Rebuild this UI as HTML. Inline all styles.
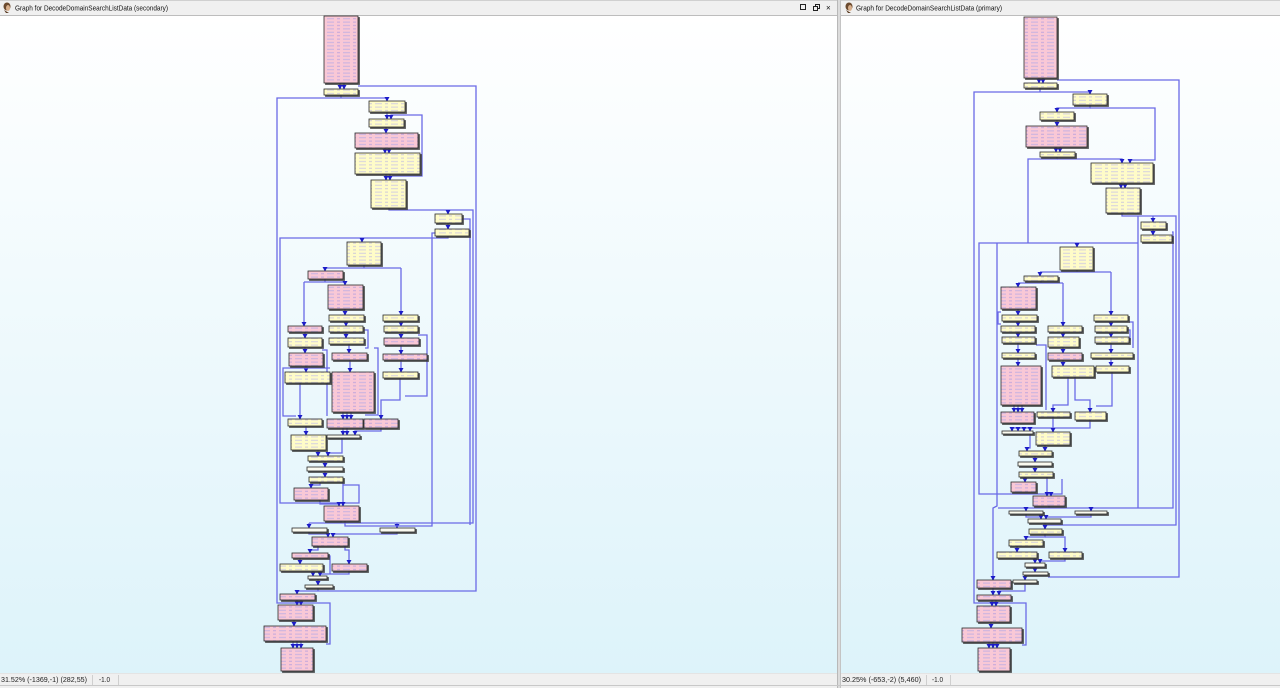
<!DOCTYPE html>
<html><head><meta charset="utf-8"><style>
html,body{margin:0;padding:0;width:1280px;height:688px;overflow:hidden;background:#f0f0f0}
svg{position:absolute;left:0;top:0}
</style></head><body>
<svg width="1280" height="688" viewBox="0 0 1280 688" xmlns="http://www.w3.org/2000/svg">
<defs>
<linearGradient id="bg" x1="0" y1="0" x2="0" y2="1">
<stop offset="0" stop-color="#ffffff"/><stop offset="1" stop-color="#ddf3fa"/>
</linearGradient>
<pattern id="pp" width="16" height="3.4" patternUnits="userSpaceOnUse">
<rect width="16" height="3.4" fill="#f9c8d6"/><rect x="1" y="1.2" width="3" height="1" fill="#c2a6dc"/><rect x="7" y="1.2" width="7" height="1" fill="#c6b2e2"/>
</pattern>
<pattern id="py" width="16" height="3.4" patternUnits="userSpaceOnUse">
<rect width="16" height="3.4" fill="#fffcc8"/><rect x="1" y="1.2" width="3" height="1" fill="#cfcad8"/><rect x="7" y="1.2" width="7" height="1" fill="#d4d0e0"/>
</pattern>
<filter id="sh" x="-20%" y="-20%" width="150%" height="150%">
<feDropShadow dx="1.5" dy="1.5" stdDeviation="0.3" flood-color="#3a3a3a" flood-opacity="0.85"/>
</filter>
<marker id="ar" markerWidth="5" markerHeight="5" refX="4" refY="2.5" orient="auto" markerUnits="userSpaceOnUse">
<path d="M0,0 L4.5,2.5 L0,5 z" fill="#1c1cc8"/>
</marker>
<style>
.e{fill:none;stroke:#6a6ae6;stroke-width:1.3}
.a{marker-end:url(#ar)}
.p{fill:url(#pp);stroke:#2a2a2a;stroke-width:.8}
.y{fill:url(#py);stroke:#2a2a2a;stroke-width:.8}
.w{fill:#fbfbf0;stroke:#2a2a2a;stroke-width:.8}
.tt{font-family:"Liberation Sans",sans-serif;font-size:7.5px;fill:#111}
.st{font-family:"Liberation Sans",sans-serif;font-size:7px;fill:#222}
</style>
</defs>

<!-- title bars -->
<rect x="0" y="0" width="1280" height="16" fill="#f0f0f0"/>
<line x1="0" y1="0.5" x2="1280" y2="0.5" stroke="#d0d0d0"/>
<line x1="0" y1="15.5" x2="1280" y2="15.5" stroke="#bdbdbd"/>
<g>
<ellipse cx="7" cy="6.5" rx="3.5" ry="4" fill="#6b4a2e"/>
<ellipse cx="8" cy="8" rx="2" ry="3" fill="#d9b08c"/>
<path d="M4,10 L6,13 L9,13 Z" fill="#5a3b22"/>
</g>
<text class="tt" x="15" y="10.5" textLength="153" lengthAdjust="spacingAndGlyphs">Graph for DecodeDomainSearchListData (secondary)</text>
<rect x="800.5" y="4.5" width="5" height="5" fill="none" stroke="#222" stroke-width="1"/>
<rect x="815.5" y="4.5" width="4" height="4" fill="none" stroke="#222" stroke-width="1"/>
<rect x="813.5" y="6.5" width="4" height="4" fill="#f0f0f0" stroke="#222" stroke-width="1"/>
<text class="tt" x="826" y="10.5" style="font-size:8px">×</text>
<g transform="translate(842,0)">
<ellipse cx="7" cy="6.5" rx="3.5" ry="4" fill="#6b4a2e"/>
<ellipse cx="8" cy="8" rx="2" ry="3" fill="#d9b08c"/>
<path d="M4,10 L6,13 L9,13 Z" fill="#5a3b22"/>
</g>
<text class="tt" x="856" y="10.5" textLength="146" lengthAdjust="spacingAndGlyphs">Graph for DecodeDomainSearchListData (primary)</text>

<!-- graph areas -->
<rect x="0" y="16" width="837" height="657" fill="url(#bg)"/>
<rect x="841" y="16" width="439" height="657" fill="url(#bg)"/>
<!-- divider -->
<rect x="837" y="0" width="4" height="688" fill="#dcdcdc"/>
<line x1="837.5" y1="0" x2="837.5" y2="688" stroke="#b8b8b8"/>
<line x1="840.5" y1="0" x2="840.5" y2="688" stroke="#c4c4c4"/>

<!-- status bars -->
<rect x="0" y="673" width="837" height="15" fill="#f0f0f0"/>
<rect x="841" y="673" width="439" height="15" fill="#f0f0f0"/>
<line x1="0" y1="673.5" x2="837" y2="673.5" stroke="#e4e4e4"/>
<line x1="841" y1="673.5" x2="1280" y2="673.5" stroke="#e4e4e4"/>
<line x1="0" y1="685.5" x2="1280" y2="685.5" stroke="#c8c8c8"/>
<text class="st" x="1" y="682" textLength="86" lengthAdjust="spacingAndGlyphs">31.52%  (-1369,-1)  (282,55)</text>
<line x1="92.5" y1="675" x2="92.5" y2="685" stroke="#cfcfcf"/>
<text class="st" x="99" y="682" textLength="11" lengthAdjust="spacingAndGlyphs">-1.0</text>
<line x1="118.5" y1="675" x2="118.5" y2="685" stroke="#cfcfcf"/>
<text class="st" x="842" y="682" textLength="79" lengthAdjust="spacingAndGlyphs">30.25%  (-653,-2)  (5,460)</text>
<line x1="926.5" y1="675" x2="926.5" y2="685" stroke="#cfcfcf"/>
<text class="st" x="932" y="682" textLength="11" lengthAdjust="spacingAndGlyphs">-1.0</text>
<line x1="950.5" y1="675" x2="950.5" y2="685" stroke="#cfcfcf"/>

<!-- LEFT EDGES -->
<g class="e">
<polyline class="a" points="340,83 340,89"/>
<polyline class="a" points="344,83 344,89"/>
<polyline points="358,86 476,86 476,591 297,591"/>
<polyline class="a" points="297,591 297,594"/>
<polyline points="326,644 330,644 330,603 277,603 277,98 387,98"/>
<polyline points="341,95 341,98"/>
<polyline class="a" points="387,98 387,101"/>
<polyline class="a" points="387,112 387,119"/>
<polyline class="a" points="392,176 422,176 422,115 391,115 391,119"/>
<polyline class="a" points="386,127 386,133"/>
<polyline class="a" points="385,148 385,153"/>
<polyline class="a" points="389,148 389,153"/>
<polyline class="a" points="386,174 386,180"/>
<polyline class="a" points="390,174 390,180"/>
<polyline points="389,208 389,210 473,210 473,523 309,523"/>
<polyline class="a" points="309,523 309,528"/>
<polyline class="a" points="397,523 397,528"/>
<polyline class="a" points="448,210 448,214"/>
<polyline class="a" points="448,223 448,229"/>
<polyline points="462,219 470,219 470,525"/>
<polyline points="435,233 432,233 432,526 345,526 345,521"/>
<polyline points="343,485 359,485 359,503 280,503 280,238 448,238 448,236"/>
<polyline class="a" points="362,238 362,242"/>
<polyline points="364,265 364,268"/>
<polyline points="325,268 401,268"/>
<polyline class="a" points="325,268 325,271"/>
<polyline class="a" points="401,268 401,315"/>
<polyline points="325,279 325,282"/>
<polyline points="304,282 345,282"/>
<polyline class="a" points="304,282 304,326"/>
<polyline class="a" points="345,282 345,285"/>
<polyline class="a" points="345,309 345,315"/>
<polyline class="a" points="346,321 346,326"/>
<polyline class="a" points="346,332 346,338"/>
<polyline class="a" points="349,344 349,353"/>
<polyline class="a" points="350,360 350,372"/>
<polyline class="a" points="343,412 343,419"/>
<polyline class="a" points="347,412 347,419"/>
<polyline class="a" points="351,412 351,419"/>
<polyline class="a" points="401,321 401,326"/>
<polyline class="a" points="401,332 401,338"/>
<polyline class="a" points="401,345 401,354"/>
<polyline class="a" points="401,360 401,372"/>
<polyline class="a" points="400,378 400,400 381,400 381,419"/>
<polyline class="a" points="305,332 305,338"/>
<polyline class="a" points="305,347 305,353"/>
<polyline class="a" points="306,366 306,372"/>
<polyline class="a" points="300,383 300,419"/>
<polyline points="330,368 283,368 283,416 296,416"/>
<polyline points="374,348 378,348 378,415 365,415"/>
<polyline points="418,335 427,335 427,396 405,396"/>
<polyline points="364,330 368,330 368,348 365,348"/>
<polyline points="322,350 327,350 327,416"/>
<polyline class="a" points="306,426 306,435"/>
<polyline class="a" points="343,428 343,435"/>
<polyline class="a" points="347,428 347,435"/>
<polyline class="a" points="381,428 381,431 355,431 355,435"/>
<polyline class="a" points="318,450 318,456"/>
<polyline class="a" points="342,438 342,453 328,453 328,456"/>
<polyline class="a" points="325,461 325,467"/>
<polyline class="a" points="325,471 325,477"/>
<polyline class="a" points="320,482 320,485 311,485 311,488"/>
<polyline class="a" points="320,500 320,504 339,504 339,506"/>
<polyline class="a" points="343,482 343,506"/>
<polyline points="341,521 341,523"/>
<polyline class="a" points="309,532 309,534 328,534 328,537"/>
<polyline class="a" points="397,532 397,534 333,534 333,537"/>
<polyline class="a" points="318,546 318,550 310,550 310,553"/>
<polyline class="a" points="345,546 345,550 349,550 349,564"/>
<polyline class="a" points="300,558 300,564"/>
<polyline points="328,556 330,556 330,574"/>
<polyline class="a" points="313,571 313,576"/>
<polyline class="a" points="349,571 349,574 320,574 320,576"/>
<polyline class="a" points="318,579 318,585"/>
<polyline points="318,588 318,591"/>
<polyline class="a" points="297,600 297,605"/>
<polyline class="a" points="301,600 301,605"/>
<polyline class="a" points="294,620 294,626"/>
<polyline class="a" points="293,641 293,648"/>
<polyline class="a" points="297,641 297,648"/>
<polyline class="a" points="301,641 301,648"/>
</g>

<!-- RIGHT EDGES -->
<g class="e">
<polyline class="a" points="1039,78 1039,83"/>
<polyline class="a" points="1043,78 1043,83"/>
<polyline points="1057,80 1179,80 1179,577 1048,577"/>
<polyline points="1022,645 1026,645 1026,603 974,603 974,92 1090,92"/>
<polyline points="1040,88 1040,92"/>
<polyline class="a" points="1090,92 1090,94"/>
<polyline class="a" points="1090,105 1090,108 1057,108 1057,112"/>
<polyline class="a" points="1090,108 1155,108 1155,160 1130,160 1130,163"/>
<polyline class="a" points="1057,120 1057,126"/>
<polyline class="a" points="1056,147 1056,152"/>
<polyline class="a" points="1060,147 1060,152"/>
<polyline points="1057,157 1057,159 1028,159 1028,243"/>
<polyline class="a" points="1057,159 1122,159 1122,163"/>
<polyline class="a" points="1121,183 1121,188"/>
<polyline class="a" points="1125,183 1125,188"/>
<polyline points="1122,213 1122,216 1176,216 1176,525 1043,525"/>
<polyline class="a" points="1153,216 1153,222"/>
<polyline points="1138,216 1138,508"/>
<polyline class="a" points="1153,229 1153,235"/>
<polyline points="1172,232 1173,232 1173,508 998,508"/>
<polyline points="1062,479 1062,494 979,494 979,243 1138,243"/>
<polyline class="a" points="1077,243 1077,247"/>
<polyline points="997,243 997,506 993,508 993,580"/>
<polyline points="1077,270 1077,272"/>
<polyline points="1040,272 1111,272"/>
<polyline class="a" points="1040,272 1040,276"/>
<polyline class="a" points="1111,272 1111,315"/>
<polyline points="1041,281 1041,283"/>
<polyline points="1018,283 1063,283"/>
<polyline class="a" points="1018,283 1018,287"/>
<polyline class="a" points="1063,283 1063,326"/>
<polyline class="a" points="1018,309 1018,315"/>
<polyline class="a" points="1018,321 1018,326"/>
<polyline class="a" points="1018,332 1018,337"/>
<polyline class="a" points="1018,343 1018,353"/>
<polyline class="a" points="1018,358 1018,366"/>
<polyline class="a" points="1014,405 1014,412"/>
<polyline class="a" points="1018,405 1018,412"/>
<polyline class="a" points="1022,405 1022,412"/>
<polyline points="1036,345 1046,345 1046,410"/>
<polyline points="1001,312 998,312 998,324 1001,324"/>
<polyline class="a" points="1063,332 1063,337"/>
<polyline class="a" points="1063,347 1063,353"/>
<polyline class="a" points="1063,360 1063,366"/>
<polyline class="a" points="1068,377 1068,405 1053,405 1053,412"/>
<polyline class="a" points="1075,377 1075,400 1090,400 1090,412"/>
<polyline class="a" points="1111,321 1111,326"/>
<polyline class="a" points="1111,332 1111,337"/>
<polyline class="a" points="1111,343 1111,353"/>
<polyline class="a" points="1111,358 1111,366"/>
<polyline points="1112,372 1112,406 1096,406"/>
<polyline points="1129,322 1133,322 1133,348"/>
<polyline points="1127,330 1130,330 1130,340 1129,340"/>
<polyline points="1090,420 1090,428 1012,428"/>
<polyline class="a" points="1012,428 1012,431"/>
<polyline class="a" points="1018,428 1018,431"/>
<polyline class="a" points="1024,428 1024,431"/>
<polyline class="a" points="1030,428 1030,431"/>
<polyline class="a" points="1053,417 1053,432"/>
<polyline class="a" points="1030,434 1030,448 1027,448 1027,451"/>
<polyline class="a" points="1045,445 1045,451"/>
<polyline class="a" points="1035,456 1035,462"/>
<polyline class="a" points="1035,466 1035,472"/>
<polyline class="a" points="1025,477 1025,482"/>
<polyline class="a" points="1047,477 1047,496"/>
<polyline class="a" points="1051,494 1051,496"/>
<polyline points="1049,506 1049,508"/>
<polyline class="a" points="1026,508 1026,511"/>
<polyline class="a" points="1091,508 1091,511"/>
<polyline class="a" points="1026,514 1026,517 1041,517 1041,519"/>
<polyline class="a" points="1091,514 1091,517 1046,517 1046,519"/>
<polyline class="a" points="1045,523 1045,529"/>
<polyline class="a" points="1045,534 1045,537 1026,537 1026,540"/>
<polyline class="a" points="1045,537 1065,537 1065,552"/>
<polyline class="a" points="1017,546 1017,552"/>
<polyline class="a" points="1035,558 1035,563"/>
<polyline class="a" points="1065,558 1065,561 1040,561 1040,563"/>
<polyline class="a" points="1035,567 1035,572"/>
<polyline class="a" points="1025,575 1025,580"/>
<polyline class="a" points="993,578 993,580"/>
<polyline class="a" points="1025,583 1025,591 999,591 999,595"/>
<polyline class="a" points="993,588 993,595"/>
<polyline class="a" points="992,600 992,606"/>
<polyline class="a" points="996,600 996,606"/>
<polyline class="a" points="991,622 991,628"/>
<polyline class="a" points="989,642 989,648"/>
<polyline class="a" points="993,642 993,648"/>
<polyline class="a" points="997,642 997,648"/>
</g>

<!-- LEFT NODES -->
<g filter="url(#sh)">
<rect class="p" x="324" y="16" width="34" height="67"/>
<rect class="y" x="324" y="89" width="34" height="6"/>
<rect class="y" x="369" y="101" width="36" height="11"/>
<rect class="y" x="369" y="119" width="35" height="8"/>
<rect class="p" x="355" y="133" width="63" height="15"/>
<rect class="y" x="355" y="153" width="65" height="21"/>
<rect class="y" x="371" y="180" width="35" height="28"/>
<rect class="y" x="435" y="214" width="27" height="9"/>
<rect class="y" x="435" y="229" width="34" height="7"/>
<rect class="y" x="347" y="242" width="34" height="23"/>
<rect class="p" x="308" y="271" width="35" height="8"/>
<rect class="p" x="328" y="285" width="35" height="24"/>
<rect class="y" x="329" y="315" width="35" height="6"/>
<rect class="y" x="383" y="315" width="35" height="6"/>
<rect class="p" x="288" y="326" width="34" height="6"/>
<rect class="y" x="329" y="326" width="34" height="6"/>
<rect class="y" x="384" y="326" width="34" height="6"/>
<rect class="y" x="288" y="338" width="34" height="9"/>
<rect class="y" x="329" y="338" width="35" height="6"/>
<rect class="p" x="384" y="338" width="35" height="7"/>
<rect class="p" x="289" y="353" width="34" height="13"/>
<rect class="p" x="332" y="353" width="35" height="7"/>
<rect class="p" x="383" y="354" width="44" height="6"/>
<rect class="y" x="285" y="372" width="45" height="11"/>
<rect class="p" x="332" y="372" width="42" height="40"/>
<rect class="y" x="383" y="372" width="35" height="6"/>
<rect class="y" x="288" y="419" width="34" height="7"/>
<rect class="p" x="327" y="419" width="36" height="9"/>
<rect class="p" x="364" y="419" width="34" height="9"/>
<rect class="y" x="291" y="435" width="35" height="15"/>
<rect class="w" x="327" y="435" width="33" height="3"/>
<rect class="y" x="308" y="456" width="35" height="5"/>
<rect class="w" x="307" y="467" width="36" height="4"/>
<rect class="y" x="309" y="477" width="34" height="5"/>
<rect class="p" x="294" y="488" width="34" height="12"/>
<rect class="p" x="324" y="506" width="35" height="15"/>
<rect class="w" x="292" y="528" width="35" height="4"/>
<rect class="w" x="380" y="528" width="35" height="4"/>
<rect class="p" x="312" y="537" width="36" height="9"/>
<rect class="p" x="292" y="553" width="36" height="5"/>
<rect class="y" x="280" y="564" width="43" height="7"/>
<rect class="p" x="332" y="564" width="35" height="7"/>
<rect class="w" x="308" y="576" width="19" height="3"/>
<rect class="w" x="305" y="585" width="28" height="3"/>
<rect class="p" x="280" y="594" width="35" height="6"/>
<rect class="p" x="278" y="605" width="35" height="15"/>
<rect class="p" x="264" y="626" width="62" height="15"/>
<rect class="p" x="281" y="648" width="32" height="23"/>
</g>

<!-- RIGHT NODES -->
<g filter="url(#sh)">
<rect class="p" x="1024" y="17" width="33" height="61"/>
<rect class="y" x="1024" y="83" width="33" height="5"/>
<rect class="y" x="1073" y="94" width="34" height="11"/>
<rect class="y" x="1040" y="112" width="34" height="8"/>
<rect class="p" x="1026" y="126" width="61" height="21"/>
<rect class="y" x="1040" y="152" width="35" height="5"/>
<rect class="y" x="1091" y="163" width="62" height="20"/>
<rect class="y" x="1106" y="188" width="34" height="25"/>
<rect class="y" x="1141" y="222" width="25" height="7"/>
<rect class="y" x="1141" y="235" width="31" height="7"/>
<rect class="y" x="1060" y="247" width="33" height="23"/>
<rect class="y" x="1024" y="276" width="34" height="5"/>
<rect class="p" x="1001" y="287" width="35" height="22"/>
<rect class="y" x="1002" y="315" width="35" height="6"/>
<rect class="y" x="1094" y="315" width="34" height="6"/>
<rect class="y" x="1001" y="326" width="34" height="6"/>
<rect class="y" x="1048" y="326" width="34" height="6"/>
<rect class="y" x="1095" y="326" width="32" height="6"/>
<rect class="y" x="1002" y="337" width="33" height="6"/>
<rect class="y" x="1048" y="337" width="31" height="10"/>
<rect class="y" x="1095" y="337" width="34" height="6"/>
<rect class="y" x="1002" y="353" width="33" height="5"/>
<rect class="p" x="1048" y="353" width="34" height="7"/>
<rect class="y" x="1091" y="353" width="42" height="5"/>
<rect class="p" x="1001" y="366" width="40" height="39"/>
<rect class="y" x="1052" y="366" width="42" height="11"/>
<rect class="y" x="1096" y="366" width="33" height="6"/>
<rect class="p" x="1001" y="412" width="33" height="11"/>
<rect class="y" x="1037" y="412" width="33" height="5"/>
<rect class="y" x="1075" y="412" width="31" height="8"/>
<rect class="w" x="1002" y="431" width="31" height="3"/>
<rect class="y" x="1036" y="432" width="34" height="13"/>
<rect class="y" x="1019" y="451" width="33" height="5"/>
<rect class="w" x="1018" y="462" width="34" height="4"/>
<rect class="y" x="1019" y="472" width="34" height="5"/>
<rect class="p" x="1011" y="482" width="25" height="10"/>
<rect class="p" x="1033" y="496" width="32" height="10"/>
<rect class="w" x="1009" y="511" width="34" height="3"/>
<rect class="w" x="1075" y="511" width="32" height="3"/>
<rect class="w" x="1028" y="519" width="33" height="4"/>
<rect class="y" x="1029" y="529" width="33" height="5"/>
<rect class="y" x="1009" y="540" width="34" height="6"/>
<rect class="y" x="997" y="552" width="40" height="6"/>
<rect class="y" x="1049" y="552" width="33" height="6"/>
<rect class="w" x="1025" y="563" width="20" height="4"/>
<rect class="w" x="1023" y="572" width="25" height="3"/>
<rect class="w" x="1013" y="580" width="24" height="3"/>
<rect class="p" x="977" y="580" width="34" height="8"/>
<rect class="p" x="977" y="595" width="34" height="5"/>
<rect class="p" x="977" y="606" width="33" height="16"/>
<rect class="p" x="962" y="628" width="60" height="14"/>
<rect class="p" x="978" y="648" width="32" height="23"/>
</g>
</svg>
</body></html>
